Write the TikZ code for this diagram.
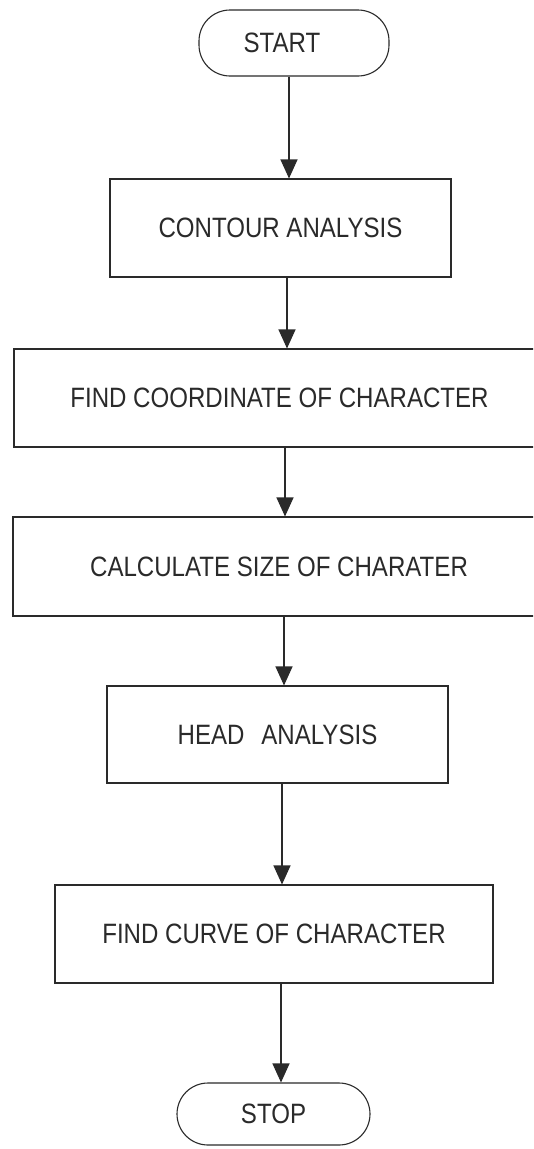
\documentclass[tikz,border=0pt]{standalone}
\usepackage{fontspec}
\setmainfont[FakeStretch=0.86]{Liberation Sans}
\usetikzlibrary{arrows.meta}
\definecolor{ink}{HTML}{2A2A2A}
\tikzset{
  x=1pt, y=-1pt,
  box/.style={draw=ink, line width=1.1pt, rectangle, inner sep=0pt,
              font=\fontsize{28}{32}\selectfont, text=ink},
  term/.style={box, rounded corners=31pt},
  flow/.style={draw=ink, line width=1.1pt,
               -{Triangle[width=17pt,length=19pt]}}
}
\begin{document}
\begin{tikzpicture}
  \clip (0,0) rectangle (533,1149);
  \fill[white] (0,0) rectangle (533,1149);

  % process chain
  \node[term, minimum width=190pt, minimum height=66pt] (start) at (294,43) {\hspace*{-24pt}START};
  \node[box, minimum width=341pt, minimum height=98pt] (contour) at (280.5,228) {CONTOUR ANALYSIS};
  \node[box, minimum width=531pt, minimum height=98pt] (coord) at (279.5,398) {FIND COORDINATE OF CHARACTER};
  \node[box, minimum width=532pt, minimum height=99pt] (calc) at (279,566.5) {CALCULATE SIZE OF CHARATER};
  \node[box, minimum width=341pt, minimum height=97pt] (head) at (277.5,734.5) {HEAD\hspace{0.6em}ANALYSIS};
  \node[box, minimum width=438pt, minimum height=98pt] (curve) at (274,934) {FIND CURVE OF CHARACTER};
  \node[term, minimum width=193pt, minimum height=62pt] (stop) at (273.5,1114) {STOP};

  % connectors
  \draw[flow] ([xshift=-5pt]start.south) -- ([xshift=8.5pt]contour.north);
  \draw[flow] ([xshift=6.5pt]contour.south) -- ([xshift=7.5pt]coord.north);
  \draw[flow] ([xshift=5.5pt]coord.south) -- ([xshift=6pt]calc.north);
  \draw[flow] ([xshift=5pt]calc.south) -- ([xshift=6.5pt]head.north);
  \draw[flow] ([xshift=4.5pt]head.south) -- ([xshift=8pt]curve.north);
  \draw[flow] ([xshift=7pt]curve.south) -- ([xshift=7.5pt]stop.north);
\end{tikzpicture}
\end{document}
